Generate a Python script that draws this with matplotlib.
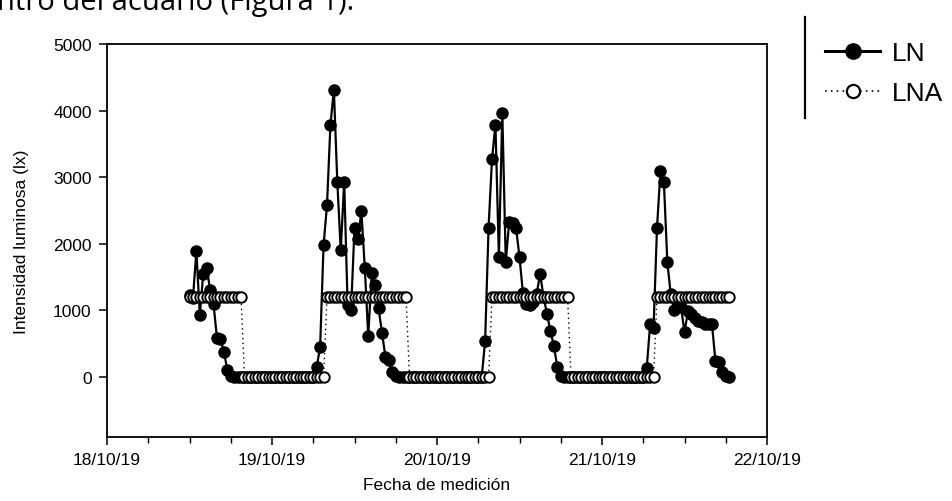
import datetime as dt

import matplotlib
matplotlib.use("Agg")
import matplotlib.pyplot as plt
import matplotlib.dates as mdates
from matplotlib.lines import Line2D
import pandas as pd

# half-hourly readings, first one on 18/10/19 12:00
start = "2019-10-18 12:00"

# LN: natural light, one list per light/dark cycle
ln_d1 = [1230, 1180, 1890, 930, 1550, 1640, 1310, 1090, 580, 570, 380, 110, 10,
         0, 0, 0, 0, 0, 0, 0, 0, 0, 0, 0, 0,
         0, 0, 0, 0, 0, 0, 0, 0, 0, 0, 0, 0]
ln_d2 = [150, 450, 1980, 2580, 3790, 4310, 2930, 1900, 2930, 1080, 1000, 2240,
         2070, 2490, 1640, 610, 1560, 1380, 1030, 660, 300, 250, 80, 10,
         0, 0, 0, 0, 0, 0, 0, 0, 0, 0, 0, 0,
         0, 0, 0, 0, 0, 0, 0, 0, 0, 0, 0, 0]
ln_d3 = [0, 540, 2240, 3270, 3790, 1800, 3970, 1730, 2330, 2310, 2240, 1800,
         1260, 1090, 1080, 1130, 1250, 1550, 1200, 950, 690, 470, 150, 20,
         0, 0, 0, 0, 0, 0, 0, 0, 0, 0, 0, 0,
         0, 0, 0, 0, 0, 0, 0, 0, 0, 0, 0, 0]
ln_d4 = [130, 790, 740, 2240, 3090, 2930, 1730, 1240, 1010, 1060, 1050, 670,
         990, 950, 880, 840, 820, 800, 790, 790, 240, 220, 75, 15, 0]

# LNA: artificial light (on/off)
lna_d1 = [1200, 1200, 1200, 1200, 1200, 1200, 1200, 1200,
          1200, 1200, 1200, 1200, 1200, 1200, 1200, 1200,
          0, 0, 0, 0, 0, 0, 0, 0, 0, 0, 0, 0,
          0, 0, 0, 0, 0, 0, 0, 0, 0, 0, 0, 0]
lna_d2 = [1200, 1200, 1200, 1200, 1200, 1200, 1200, 1200, 1200, 1200, 1200, 1200,
          1200, 1200, 1200, 1200, 1200, 1200, 1200, 1200, 1200, 1200, 1200, 1200,
          0, 0, 0, 0, 0, 0, 0, 0, 0, 0, 0, 0,
          0, 0, 0, 0, 0, 0, 0, 0, 0, 0, 0, 0]
lna_d3 = [1200, 1200, 1200, 1200, 1200, 1200, 1200, 1200, 1200, 1200, 1200, 1200,
          1200, 1200, 1200, 1200, 1200, 1200, 1200, 1200, 1200, 1200, 1200,
          0, 0, 0, 0, 0, 0, 0, 0, 0, 0, 0, 0, 0,
          0, 0, 0, 0, 0, 0, 0, 0, 0, 0, 0, 0]
lna_d4 = [1200, 1200, 1200, 1200, 1200, 1200, 1200, 1200, 1200, 1200, 1200,
          1200, 1200, 1200, 1200, 1200, 1200, 1200, 1200, 1200, 1200, 1200]

ln = ln_d1 + ln_d2 + ln_d3 + ln_d4
lna = lna_d1 + lna_d2 + lna_d3 + lna_d4
times = pd.date_range(start, periods=len(ln), freq="30min")

y_ticks = [0, 1000, 2000, 3000, 4000, 5000]

plt.rcParams["font.family"] = ["Liberation Sans", "DejaVu Sans"]

fig = plt.figure(figsize=(9.53, 5.02), dpi=100)
ax = fig.add_axes([107 / 953, 1 - 438 / 502, 660 / 953, 393 / 502])

ax.plot(times, ln, "-o", color="black", lw=1.6, ms=8, zorder=2)
ax.plot(times, lna, linestyle=(0, (1, 2.5)), lw=1.0, color="black",
        marker="o", ms=7.5, mfc="white", mec="black", mew=1.4, zorder=3)

ax.set_xlim(dt.datetime(2019, 10, 18), dt.datetime(2019, 10, 22))
ax.set_ylim(-900, 5000)
ax.set_yticks(y_ticks)

ax.xaxis.set_major_locator(mdates.DayLocator())
ax.xaxis.set_major_formatter(mdates.DateFormatter("%d/%m/%y"))
ax.xaxis.set_minor_locator(mdates.HourLocator(byhour=[6, 12, 18]))

for s in ax.spines.values():
    s.set_linewidth(1.3)
ax.tick_params(which="major", direction="out", length=6, width=1.1,
               labelsize=12.5, pad=5)
ax.tick_params(which="minor", direction="out", length=4, width=1.0)

ax.set_xlabel("Fecha de medición", fontsize=12.5, labelpad=7)
ax.set_ylabel("Intensidad luminosa (lx)", fontsize=12.5, labelpad=17)

# legend sitting in its own box to the right of the plot
handles = [
    Line2D([], [], color="black", lw=2.2, marker="o", ms=11),
    Line2D([], [], color="black", lw=1.2, linestyle=(0, (1, 2.5)),
           marker="o", ms=9.5, mfc="white", mec="black", mew=1.6),
]
fig.legend(handles, ["LN", "LNA"], loc="upper left",
           bbox_to_anchor=(825 / 953, 1 - 42 / 502), frameon=False,
           borderpad=0, borderaxespad=0, handlelength=2.1,
           handletextpad=0.45, labelspacing=0.62,
           prop={"family": "Liberation Sans", "size": 19})
fig.add_artist(Line2D([805 / 953, 805 / 953], [1 - 18 / 502, 1 - 119 / 502],
                      transform=fig.transFigure, color="black", lw=1.6))

# running paragraph text above the figure
fig.text(-3 / 953, 1 - 10 / 502, "ntro del acuario (Figura 1).",
         fontsize=21, family=["Open Sans", "DejaVu Sans"], va="baseline")

fig.savefig("out.png", dpi=100)
